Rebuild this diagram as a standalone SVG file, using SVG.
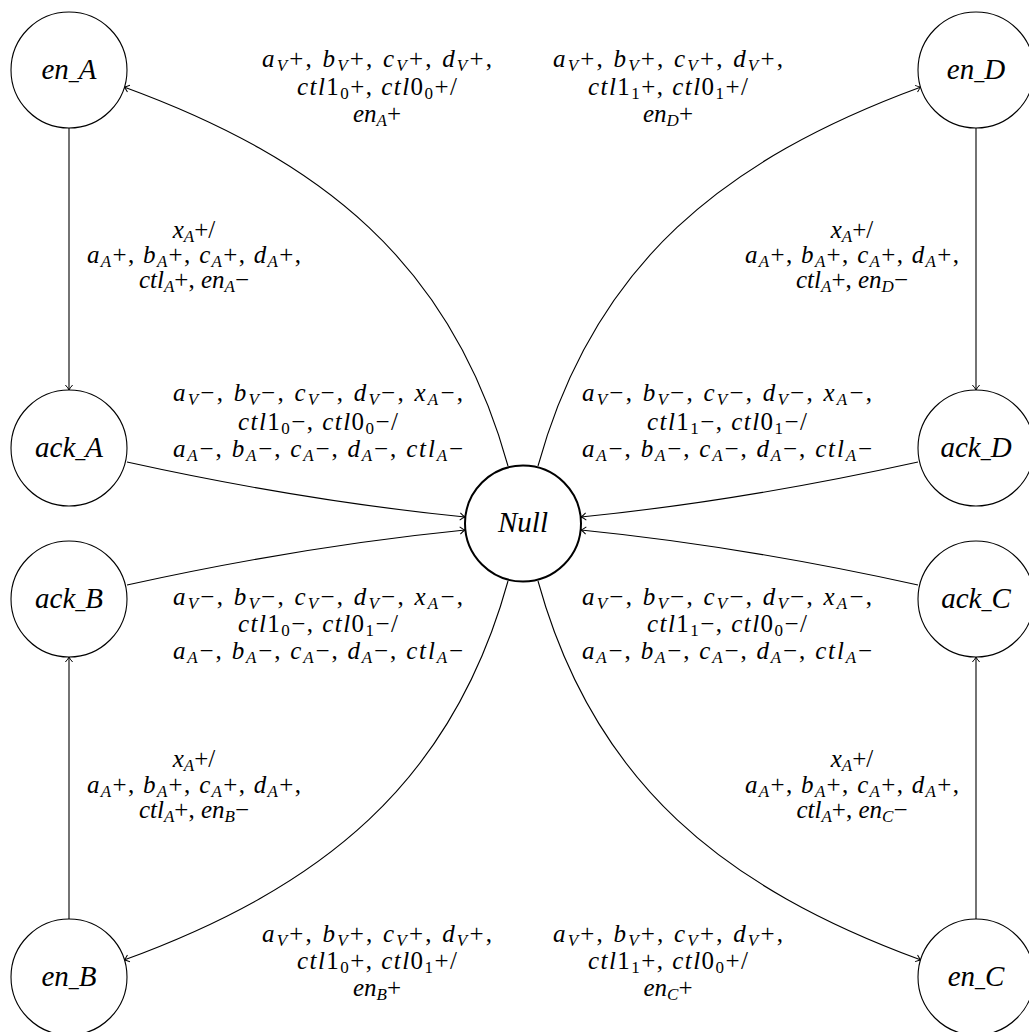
<svg xmlns="http://www.w3.org/2000/svg" width="1029" height="1032" viewBox="0 0 1029 1032" font-family="'Liberation Serif', 'DejaVu Serif', serif">
  <style>
    .node circle { fill: #fff; stroke: #000; stroke-width: 1.1; }
    #null circle { stroke-width: 2; }
    .edge { fill: none; stroke: #000; stroke-width: 1.1; marker-end: url(#arr); }
    text { fill: #000; text-anchor: middle; }
    .nt { font-size: 29px; font-style: italic; }
    .lb { font-size: 25px; }
    .i { font-style: italic; }
    .s { font-size: 17px; font-style: italic; }
    .sd { font-size: 17px; }
    .us { font-style: normal; font-size: 20px; }
  </style>
  <defs>
    <marker id="arr" viewBox="-6 -5 7 10" refX="0" refY="0" markerWidth="7" markerHeight="10" orient="auto" markerUnits="userSpaceOnUse">
      <path d="M-5,-3.6 Q-1.8,-0.7 0,0 Q-1.8,0.7 -5,3.6" fill="none" stroke="#000" stroke-width="1"/>
    </marker>
  </defs>

  <!-- connectors -->
  <g id="edges">
    <!-- vertical hand-offs -->
    <path class="edge" d="M69,128 L69,390"/>
    <path class="edge" d="M976,128 L976,390"/>
    <path class="edge" d="M69,919 L69,657"/>
    <path class="edge" d="M976,919 L976,657"/>
    <!-- Null out to the enable states -->
    <path class="edge" d="M508,466 C452,263 321,159 124,87"/>
    <path class="edge" d="M538,466 C594,263 725,159 921,87"/>
    <path class="edge" d="M508,581 C452,784 321,888 124,960"/>
    <path class="edge" d="M538,581 C594,784 725,888 921,960"/>
    <!-- acknowledge states back to Null -->
    <path class="edge" d="M127,462 Q304,501 465,517"/>
    <path class="edge" d="M127,585 Q304,546 465,530"/>
    <path class="edge" d="M918,462 Q741,501 581,517"/>
    <path class="edge" d="M918,585 Q741,546 581,530"/>
  </g>

  <!-- states -->
  <g id="en_A" class="node"><circle cx="69" cy="70" r="58"/><text class="nt" x="69" y="79">en<tspan class="us">_</tspan>A</text></g>
  <g id="ack_A" class="node"><circle cx="69" cy="448" r="58"/><text class="nt" x="69" y="457">ack<tspan class="us">_</tspan>A</text></g>
  <g id="ack_B" class="node"><circle cx="69" cy="599" r="58"/><text class="nt" x="69" y="608">ack<tspan class="us">_</tspan>B</text></g>
  <g id="en_B" class="node"><circle cx="69" cy="977" r="58"/><text class="nt" x="69" y="986">en<tspan class="us">_</tspan>B</text></g>
  <g id="en_D" class="node"><circle cx="976" cy="70" r="58"/><text class="nt" x="976" y="79">en<tspan class="us">_</tspan>D</text></g>
  <g id="ack_D" class="node"><circle cx="976" cy="448" r="58"/><text class="nt" x="976" y="457">ack<tspan class="us">_</tspan>D</text></g>
  <g id="ack_C" class="node"><circle cx="976" cy="599" r="58"/><text class="nt" x="976" y="608">ack<tspan class="us">_</tspan>C</text></g>
  <g id="en_C" class="node"><circle cx="976" cy="977" r="58"/><text class="nt" x="976" y="986">en<tspan class="us">_</tspan>C</text></g>
  <g id="null" class="node"><circle cx="523" cy="523.5" r="58"/><text class="nt" x="523" y="532">Null</text></g>

  <!-- transition labels -->
  <g id="labels">
    <!-- Null -> en_A -->
    <text class="lb" x="377" y="67" textLength="230" lengthAdjust="spacing"><tspan class="i">a</tspan><tspan class="s" dy="4">V</tspan><tspan dy="-4">+, </tspan><tspan class="i">b</tspan><tspan class="s" dy="4">V</tspan><tspan dy="-4">+, </tspan><tspan class="i">c</tspan><tspan class="s" dy="4">V</tspan><tspan dy="-4">+, </tspan><tspan class="i">d</tspan><tspan class="s" dy="4">V</tspan><tspan dy="-4">+,</tspan></text>
    <text class="lb" x="377" y="95" textLength="160" lengthAdjust="spacing"><tspan class="i">ctl</tspan>1<tspan class="sd" dy="4">0</tspan><tspan dy="-4">+, </tspan><tspan class="i">ctl</tspan>0<tspan class="sd" dy="4">0</tspan><tspan dy="-4">+/</tspan></text>
    <text class="lb" x="377" y="122"><tspan class="i">en</tspan><tspan class="s" dy="4">A</tspan><tspan dy="-4">+</tspan></text>

    <!-- Null -> en_D -->
    <text class="lb" x="668" y="67" textLength="230" lengthAdjust="spacing"><tspan class="i">a</tspan><tspan class="s" dy="4">V</tspan><tspan dy="-4">+, </tspan><tspan class="i">b</tspan><tspan class="s" dy="4">V</tspan><tspan dy="-4">+, </tspan><tspan class="i">c</tspan><tspan class="s" dy="4">V</tspan><tspan dy="-4">+, </tspan><tspan class="i">d</tspan><tspan class="s" dy="4">V</tspan><tspan dy="-4">+,</tspan></text>
    <text class="lb" x="668" y="95" textLength="160" lengthAdjust="spacing"><tspan class="i">ctl</tspan>1<tspan class="sd" dy="4">1</tspan><tspan dy="-4">+, </tspan><tspan class="i">ctl</tspan>0<tspan class="sd" dy="4">1</tspan><tspan dy="-4">+/</tspan></text>
    <text class="lb" x="668" y="122"><tspan class="i">en</tspan><tspan class="s" dy="4">D</tspan><tspan dy="-4">+</tspan></text>

    <!-- en_A -> ack_A -->
    <text class="lb" x="194" y="238"><tspan class="i">x</tspan><tspan class="s" dy="4">A</tspan><tspan dy="-4">+/</tspan></text>
    <text class="lb" x="194" y="263" textLength="214" lengthAdjust="spacing"><tspan class="i">a</tspan><tspan class="s" dy="4">A</tspan><tspan dy="-4">+, </tspan><tspan class="i">b</tspan><tspan class="s" dy="4">A</tspan><tspan dy="-4">+, </tspan><tspan class="i">c</tspan><tspan class="s" dy="4">A</tspan><tspan dy="-4">+, </tspan><tspan class="i">d</tspan><tspan class="s" dy="4">A</tspan><tspan dy="-4">+,</tspan></text>
    <text class="lb" x="194" y="288"><tspan class="i">ctl</tspan><tspan class="s" dy="4">A</tspan><tspan dy="-4">+, </tspan><tspan class="i">en</tspan><tspan class="s" dy="4">A</tspan><tspan dy="-4">−</tspan></text>

    <!-- en_D -> ack_D -->
    <text class="lb" x="852" y="238"><tspan class="i">x</tspan><tspan class="s" dy="4">A</tspan><tspan dy="-4">+/</tspan></text>
    <text class="lb" x="852" y="263" textLength="214" lengthAdjust="spacing"><tspan class="i">a</tspan><tspan class="s" dy="4">A</tspan><tspan dy="-4">+, </tspan><tspan class="i">b</tspan><tspan class="s" dy="4">A</tspan><tspan dy="-4">+, </tspan><tspan class="i">c</tspan><tspan class="s" dy="4">A</tspan><tspan dy="-4">+, </tspan><tspan class="i">d</tspan><tspan class="s" dy="4">A</tspan><tspan dy="-4">+,</tspan></text>
    <text class="lb" x="852" y="288"><tspan class="i">ctl</tspan><tspan class="s" dy="4">A</tspan><tspan dy="-4">+, </tspan><tspan class="i">en</tspan><tspan class="s" dy="4">D</tspan><tspan dy="-4">−</tspan></text>

    <!-- ack_A -> Null -->
    <text class="lb" x="318" y="401" textLength="290" lengthAdjust="spacing"><tspan class="i">a</tspan><tspan class="s" dy="4">V</tspan><tspan dy="-4">−, </tspan><tspan class="i">b</tspan><tspan class="s" dy="4">V</tspan><tspan dy="-4">−, </tspan><tspan class="i">c</tspan><tspan class="s" dy="4">V</tspan><tspan dy="-4">−, </tspan><tspan class="i">d</tspan><tspan class="s" dy="4">V</tspan><tspan dy="-4">−, </tspan><tspan class="i">x</tspan><tspan class="s" dy="4">A</tspan><tspan dy="-4">−,</tspan></text>
    <text class="lb" x="318" y="430" textLength="160" lengthAdjust="spacing"><tspan class="i">ctl</tspan>1<tspan class="sd" dy="4">0</tspan><tspan dy="-4">−, </tspan><tspan class="i">ctl</tspan>0<tspan class="sd" dy="4">0</tspan><tspan dy="-4">−/</tspan></text>
    <text class="lb" x="318" y="457" textLength="290" lengthAdjust="spacing"><tspan class="i">a</tspan><tspan class="s" dy="4">A</tspan><tspan dy="-4">−, </tspan><tspan class="i">b</tspan><tspan class="s" dy="4">A</tspan><tspan dy="-4">−, </tspan><tspan class="i">c</tspan><tspan class="s" dy="4">A</tspan><tspan dy="-4">−, </tspan><tspan class="i">d</tspan><tspan class="s" dy="4">A</tspan><tspan dy="-4">−, </tspan><tspan class="i">ctl</tspan><tspan class="s" dy="4">A</tspan><tspan dy="-4">−</tspan></text>

    <!-- ack_D -> Null -->
    <text class="lb" x="727" y="401" textLength="290" lengthAdjust="spacing"><tspan class="i">a</tspan><tspan class="s" dy="4">V</tspan><tspan dy="-4">−, </tspan><tspan class="i">b</tspan><tspan class="s" dy="4">V</tspan><tspan dy="-4">−, </tspan><tspan class="i">c</tspan><tspan class="s" dy="4">V</tspan><tspan dy="-4">−, </tspan><tspan class="i">d</tspan><tspan class="s" dy="4">V</tspan><tspan dy="-4">−, </tspan><tspan class="i">x</tspan><tspan class="s" dy="4">A</tspan><tspan dy="-4">−,</tspan></text>
    <text class="lb" x="727" y="430" textLength="160" lengthAdjust="spacing"><tspan class="i">ctl</tspan>1<tspan class="sd" dy="4">1</tspan><tspan dy="-4">−, </tspan><tspan class="i">ctl</tspan>0<tspan class="sd" dy="4">1</tspan><tspan dy="-4">−/</tspan></text>
    <text class="lb" x="727" y="457" textLength="290" lengthAdjust="spacing"><tspan class="i">a</tspan><tspan class="s" dy="4">A</tspan><tspan dy="-4">−, </tspan><tspan class="i">b</tspan><tspan class="s" dy="4">A</tspan><tspan dy="-4">−, </tspan><tspan class="i">c</tspan><tspan class="s" dy="4">A</tspan><tspan dy="-4">−, </tspan><tspan class="i">d</tspan><tspan class="s" dy="4">A</tspan><tspan dy="-4">−, </tspan><tspan class="i">ctl</tspan><tspan class="s" dy="4">A</tspan><tspan dy="-4">−</tspan></text>

    <!-- ack_B -> Null -->
    <text class="lb" x="318" y="605" textLength="290" lengthAdjust="spacing"><tspan class="i">a</tspan><tspan class="s" dy="4">V</tspan><tspan dy="-4">−, </tspan><tspan class="i">b</tspan><tspan class="s" dy="4">V</tspan><tspan dy="-4">−, </tspan><tspan class="i">c</tspan><tspan class="s" dy="4">V</tspan><tspan dy="-4">−, </tspan><tspan class="i">d</tspan><tspan class="s" dy="4">V</tspan><tspan dy="-4">−, </tspan><tspan class="i">x</tspan><tspan class="s" dy="4">A</tspan><tspan dy="-4">−,</tspan></text>
    <text class="lb" x="318" y="632" textLength="160" lengthAdjust="spacing"><tspan class="i">ctl</tspan>1<tspan class="sd" dy="4">0</tspan><tspan dy="-4">−, </tspan><tspan class="i">ctl</tspan>0<tspan class="sd" dy="4">1</tspan><tspan dy="-4">−/</tspan></text>
    <text class="lb" x="318" y="659" textLength="290" lengthAdjust="spacing"><tspan class="i">a</tspan><tspan class="s" dy="4">A</tspan><tspan dy="-4">−, </tspan><tspan class="i">b</tspan><tspan class="s" dy="4">A</tspan><tspan dy="-4">−, </tspan><tspan class="i">c</tspan><tspan class="s" dy="4">A</tspan><tspan dy="-4">−, </tspan><tspan class="i">d</tspan><tspan class="s" dy="4">A</tspan><tspan dy="-4">−, </tspan><tspan class="i">ctl</tspan><tspan class="s" dy="4">A</tspan><tspan dy="-4">−</tspan></text>

    <!-- ack_C -> Null -->
    <text class="lb" x="727" y="605" textLength="290" lengthAdjust="spacing"><tspan class="i">a</tspan><tspan class="s" dy="4">V</tspan><tspan dy="-4">−, </tspan><tspan class="i">b</tspan><tspan class="s" dy="4">V</tspan><tspan dy="-4">−, </tspan><tspan class="i">c</tspan><tspan class="s" dy="4">V</tspan><tspan dy="-4">−, </tspan><tspan class="i">d</tspan><tspan class="s" dy="4">V</tspan><tspan dy="-4">−, </tspan><tspan class="i">x</tspan><tspan class="s" dy="4">A</tspan><tspan dy="-4">−,</tspan></text>
    <text class="lb" x="727" y="632" textLength="160" lengthAdjust="spacing"><tspan class="i">ctl</tspan>1<tspan class="sd" dy="4">1</tspan><tspan dy="-4">−, </tspan><tspan class="i">ctl</tspan>0<tspan class="sd" dy="4">0</tspan><tspan dy="-4">−/</tspan></text>
    <text class="lb" x="727" y="659" textLength="290" lengthAdjust="spacing"><tspan class="i">a</tspan><tspan class="s" dy="4">A</tspan><tspan dy="-4">−, </tspan><tspan class="i">b</tspan><tspan class="s" dy="4">A</tspan><tspan dy="-4">−, </tspan><tspan class="i">c</tspan><tspan class="s" dy="4">A</tspan><tspan dy="-4">−, </tspan><tspan class="i">d</tspan><tspan class="s" dy="4">A</tspan><tspan dy="-4">−, </tspan><tspan class="i">ctl</tspan><tspan class="s" dy="4">A</tspan><tspan dy="-4">−</tspan></text>

    <!-- en_B -> ack_B -->
    <text class="lb" x="194" y="767"><tspan class="i">x</tspan><tspan class="s" dy="4">A</tspan><tspan dy="-4">+/</tspan></text>
    <text class="lb" x="194" y="793" textLength="214" lengthAdjust="spacing"><tspan class="i">a</tspan><tspan class="s" dy="4">A</tspan><tspan dy="-4">+, </tspan><tspan class="i">b</tspan><tspan class="s" dy="4">A</tspan><tspan dy="-4">+, </tspan><tspan class="i">c</tspan><tspan class="s" dy="4">A</tspan><tspan dy="-4">+, </tspan><tspan class="i">d</tspan><tspan class="s" dy="4">A</tspan><tspan dy="-4">+,</tspan></text>
    <text class="lb" x="194" y="818"><tspan class="i">ctl</tspan><tspan class="s" dy="4">A</tspan><tspan dy="-4">+, </tspan><tspan class="i">en</tspan><tspan class="s" dy="4">B</tspan><tspan dy="-4">−</tspan></text>

    <!-- en_C -> ack_C -->
    <text class="lb" x="852" y="767"><tspan class="i">x</tspan><tspan class="s" dy="4">A</tspan><tspan dy="-4">+/</tspan></text>
    <text class="lb" x="852" y="793" textLength="214" lengthAdjust="spacing"><tspan class="i">a</tspan><tspan class="s" dy="4">A</tspan><tspan dy="-4">+, </tspan><tspan class="i">b</tspan><tspan class="s" dy="4">A</tspan><tspan dy="-4">+, </tspan><tspan class="i">c</tspan><tspan class="s" dy="4">A</tspan><tspan dy="-4">+, </tspan><tspan class="i">d</tspan><tspan class="s" dy="4">A</tspan><tspan dy="-4">+,</tspan></text>
    <text class="lb" x="852" y="818"><tspan class="i">ctl</tspan><tspan class="s" dy="4">A</tspan><tspan dy="-4">+, </tspan><tspan class="i">en</tspan><tspan class="s" dy="4">C</tspan><tspan dy="-4">−</tspan></text>

    <!-- Null -> en_B -->
    <text class="lb" x="377" y="942" textLength="230" lengthAdjust="spacing"><tspan class="i">a</tspan><tspan class="s" dy="4">V</tspan><tspan dy="-4">+, </tspan><tspan class="i">b</tspan><tspan class="s" dy="4">V</tspan><tspan dy="-4">+, </tspan><tspan class="i">c</tspan><tspan class="s" dy="4">V</tspan><tspan dy="-4">+, </tspan><tspan class="i">d</tspan><tspan class="s" dy="4">V</tspan><tspan dy="-4">+,</tspan></text>
    <text class="lb" x="377" y="969" textLength="160" lengthAdjust="spacing"><tspan class="i">ctl</tspan>1<tspan class="sd" dy="4">0</tspan><tspan dy="-4">+, </tspan><tspan class="i">ctl</tspan>0<tspan class="sd" dy="4">1</tspan><tspan dy="-4">+/</tspan></text>
    <text class="lb" x="377" y="996"><tspan class="i">en</tspan><tspan class="s" dy="4">B</tspan><tspan dy="-4">+</tspan></text>

    <!-- Null -> en_C -->
    <text class="lb" x="668" y="942" textLength="230" lengthAdjust="spacing"><tspan class="i">a</tspan><tspan class="s" dy="4">V</tspan><tspan dy="-4">+, </tspan><tspan class="i">b</tspan><tspan class="s" dy="4">V</tspan><tspan dy="-4">+, </tspan><tspan class="i">c</tspan><tspan class="s" dy="4">V</tspan><tspan dy="-4">+, </tspan><tspan class="i">d</tspan><tspan class="s" dy="4">V</tspan><tspan dy="-4">+,</tspan></text>
    <text class="lb" x="668" y="969" textLength="160" lengthAdjust="spacing"><tspan class="i">ctl</tspan>1<tspan class="sd" dy="4">1</tspan><tspan dy="-4">+, </tspan><tspan class="i">ctl</tspan>0<tspan class="sd" dy="4">0</tspan><tspan dy="-4">+/</tspan></text>
    <text class="lb" x="668" y="996"><tspan class="i">en</tspan><tspan class="s" dy="4">C</tspan><tspan dy="-4">+</tspan></text>
  </g>
</svg>
